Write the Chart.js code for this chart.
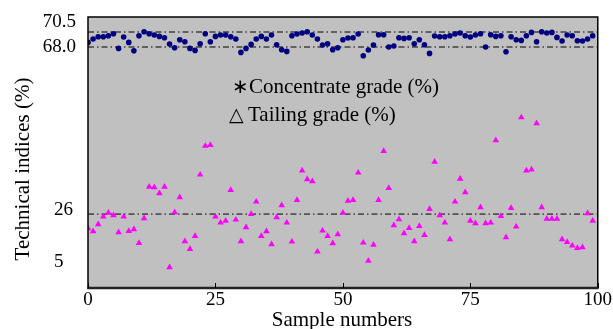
<!DOCTYPE html>
<html>
<head>
<meta charset="utf-8">
<script src="https://cdn.jsdelivr.net/npm/chart.js@4/dist/chart.umd.min.js"></script>
<style>
html,body{margin:0;padding:0;background:#fff;}
canvas{display:block;}
</style>
</head>
<body>
<canvas id="c" width="613" height="329"></canvas>
<script>
// ---- data ----
const sampleNumbers = [
  0,1,2,3,4,5,6,7,8,9,10,11,12,13,14,15,16,17,18,19,
  20,21,22,23,24,25,26,27,28,29,30,31,32,33,34,35,36,37,38,39,
  40,41,42,43,44,45,46,47,48,49,50,51,52,53,54,55,56,57,58,59,
  60,61,62,63,64,65,66,67,68,69,70,71,72,73,74,75,76,77,78,79,
  80,81,82,83,84,85,86,87,88,89,90,91,92,93,94,95,96,97,98,99
];
const concentrateGrade = [
  68.46,68.80,69.03,69.03,69.13,69.33,67.86,69.00,68.46,67.63,
  69.13,69.53,69.33,69.20,69.06,68.93,68.30,67.93,68.73,68.53,
  67.86,67.66,68.33,69.33,68.53,69.06,69.20,69.20,69.03,68.80,
  67.46,67.86,68.26,68.80,69.06,68.80,69.20,68.23,67.73,67.56,
  69.13,69.30,69.40,69.53,69.20,68.80,68.20,68.33,67.73,67.93,
  68.73,68.90,68.93,69.30,67.13,67.70,68.20,69.23,69.23,68.00,
  68.10,68.93,68.86,68.93,68.33,68.73,68.23,67.36,69.10,69.03,
  69.03,69.13,69.30,69.40,69.13,69.00,69.20,69.33,68.00,69.23,
  69.06,69.13,67.53,69.03,68.73,68.66,69.13,69.46,68.53,69.53,
  69.40,69.46,68.96,68.60,69.20,69.13,68.63,68.60,68.80,69.13
];
const tailingGrade = [
  18.55,17.36,20.14,23.15,24.73,23.70,16.97,23.15,17.48,18.16,
  12.73,22.51,35.03,34.80,32.42,35.03,3.10,24.90,30.83,13.40,
  10.35,15.50,39.80,51.20,51.55,23.15,20.77,21.56,33.70,21.96,
  13.40,18.95,24.20,29.10,15.50,17.36,12.20,22.90,27.70,20.77,
  13.24,29.76,41.40,37.96,37.20,9.28,17.60,15.50,12.60,16.20,
  24.73,29.40,29.76,40.60,12.85,5.70,12.05,29.76,49.20,34.50,
  19.74,22.10,16.57,18.67,13.40,19.46,15.90,26.20,44.90,23.70,
  20.77,14.20,29.10,38.20,32.80,21.56,20.50,26.90,20.50,20.77,
  53.40,23.40,15.00,26.60,19.20,62.50,41.40,41.80,60.15,26.90,
  22.35,22.35,22.35,14.20,13.10,11.66,10.75,11.00,24.50,21.56
];
const xTicks = [0, 25, 50, 75, 100];
const tailingTicks = [5, 26];
const concentrateTicks = [68.0, 70.5];
const concentrateLimits = [69.5, 68.0];
const tailingLimits = [24.2];
const legendSymbols = ['\u2217', '\u25B3'];
const legendLabels = ['Concentrate grade (%)', 'Tailing grade (%)'];
const xTitle = 'Sample numbers';
const yTitle = 'Technical indices (%)';

// ---- chart ----
const SERIF = '"Liberation Serif", "Times New Roman", serif';
const DASH = [6, 3, 1.5, 3];

function limitLine(v, axisId) {
  return {
    data: [{x: xTicks[0], y: v}, {x: xTicks[xTicks.length - 1], y: v}],
    yAxisID: axisId, showLine: true, pointRadius: 0, pointHoverRadius: 0,
    borderColor: '#000', borderWidth: 1, borderDash: DASH, fill: false, order: 2
  };
}

const framePlugin = {
  id: 'frame',
  beforeDraw(chart) {
    const {ctx, chartArea: a} = chart;
    ctx.save();
    ctx.fillStyle = '#c0c0c0';
    ctx.fillRect(a.left, a.top, a.right - a.left, a.bottom - a.top);
    ctx.restore();
  },
  afterDraw(chart) {
    const {ctx, chartArea: a} = chart;
    ctx.save();
    // frame
    ctx.strokeStyle = '#000';
    ctx.lineWidth = 1.5;
    ctx.strokeRect(a.left, a.top, a.right - a.left, a.bottom - a.top);
    ctx.strokeStyle = '#222';
    ctx.lineWidth = 2.5;
    ctx.beginPath();
    ctx.moveTo(a.left - 0.75, a.bottom);
    ctx.lineTo(a.right + 0.75, a.bottom);
    ctx.stroke();
    // inward x tick marks
    const xs = chart.scales.x;
    ctx.strokeStyle = '#000';
    ctx.lineWidth = 1;
    xs.ticks.forEach(t => {
      const px = Math.round(xs.getPixelForValue(t.value)) + 0.5;
      ctx.beginPath();
      ctx.moveTo(px, a.bottom);
      ctx.lineTo(px, a.bottom - 5);
      ctx.stroke();
    });
    // concentrate-scale tick labels (from the yc scale)
    const yc = chart.scales.yc;
    ctx.fillStyle = '#000';
    ctx.font = '19px ' + SERIF;
    ctx.textAlign = 'right';
    ctx.textBaseline = 'middle';
    yc.ticks.forEach(t => {
      ctx.fillText(Number(t.value).toFixed(1), a.left - 12, yc.getPixelForValue(t.value));
    });
    // titles
    ctx.font = '21px ' + SERIF;
    ctx.textBaseline = 'alphabetic';
    ctx.textAlign = 'center';
    ctx.fillText(xTitle, 342, 326);
    ctx.save();
    ctx.translate(28.5, 169);
    ctx.rotate(-Math.PI / 2);
    ctx.fillText(yTitle, 0, 0);
    ctx.restore();
    // in-plot legend text
    ctx.textAlign = 'left';
    ctx.font = '20px "DejaVu Sans"';
    ctx.fillText(legendSymbols[0], 232, 93);
    ctx.font = '21px ' + SERIF;
    ctx.fillText(legendLabels[0], 249, 93);
    ctx.font = '19px "DejaVu Sans"';
    ctx.fillText(legendSymbols[1], 229, 120.5);
    ctx.font = '21px ' + SERIF;
    ctx.fillText(legendLabels[1], 248, 120.5);
    ctx.restore();
  }
};

new Chart(document.getElementById('c'), {
  type: 'scatter',
  data: {
    datasets: [
      {
        label: legendLabels[0],
        data: sampleNumbers.map((s, i) => ({x: s, y: concentrateGrade[i]})),
        yAxisID: 'yc', pointStyle: 'circle', pointRadius: 2.8,
        backgroundColor: '#000080', borderColor: '#000080', borderWidth: 0, order: 1
      },
      {
        label: legendLabels[1],
        data: sampleNumbers.map((s, i) => ({x: s, y: tailingGrade[i]})),
        yAxisID: 'yt', pointStyle: 'triangle', pointRadius: 3.8,
        backgroundColor: '#ff00ff', borderColor: '#ff00ff', borderWidth: 0, order: 1
      },
      ...concentrateLimits.map(v => limitLine(v, 'yc')),
      ...tailingLimits.map(v => limitLine(v, 'yt'))
    ]
  },
  options: {
    responsive: false,
    animation: false,
    devicePixelRatio: 1,
    layout: {padding: {left: 54, right: 9, top: 17, bottom: 0}},
    plugins: {legend: {display: false}, tooltip: {enabled: false}},
    events: [],
    scales: {
      x: {
        type: 'linear', min: xTicks[0], max: xTicks[xTicks.length - 1],
        afterBuildTicks: s => { s.ticks = xTicks.map(v => ({value: v})); },
        afterFit: s => { s.height = 41; },
        grid: {display: false, drawTicks: false},
        border: {display: false},
        ticks: {color: '#000', font: {family: SERIF, size: 19}, padding: 1, maxRotation: 0, autoSkip: false}
      },
      yt: {
        type: 'linear', position: 'left', weight: 10, min: -5.1, max: 102.3,
        afterBuildTicks: s => { s.ticks = tailingTicks.map(v => ({value: v})); },
        afterFit: s => { s.width = 34; },
        grid: {display: false, drawTicks: false},
        border: {display: false},
        ticks: {color: '#000', font: {family: SERIF, size: 19}, crossAlign: 'far', padding: 0, autoSkip: false}
      },
      yc: {
        type: 'linear', position: 'left', weight: 0, min: 43.9, max: 71.0,
        afterBuildTicks: s => { s.ticks = concentrateTicks.map(v => ({value: v})); },
        afterFit: s => { s.width = 0; },
        grid: {display: false, drawTicks: false},
        border: {display: false},
        ticks: {display: false}
      }
    }
  },
  plugins: [framePlugin]
});
</script>
</body>
</html>
